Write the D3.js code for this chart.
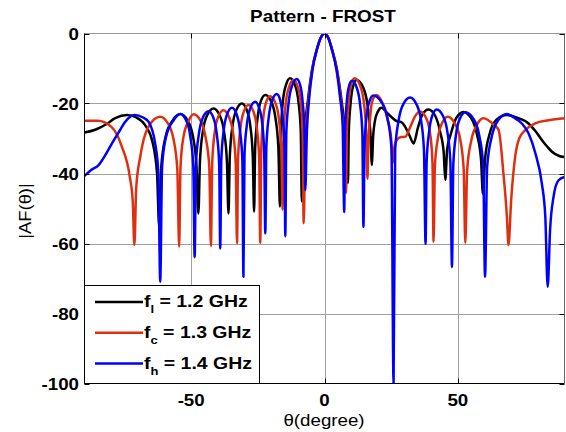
<!DOCTYPE html>
<html>
<head>
<meta charset="utf-8">
<script src="https://cdn.jsdelivr.net/npm/d3@7"></script>
<style>
  body { margin: 0; background: #fff; }
  text { font-family: 'Liberation Sans', Arial, sans-serif; }
</style>
</head>
<body>
<div id="chart"></div>
<script>
const width = 566;
const height = 432;

// pattern: [theta (deg), |AF| (dB)]
const afLow = [
  [-90, -28.3], [-86, -27.5], [-82, -26], [-78.5, -24.2], [-74, -23.3], [-70.5, -24], [-67, -26.5], [-64.5, -31], [-62.8, -40], [-62, -55],
  [-61.2, -38], [-59.6, -29.5], [-56.9, -24.8], [-54.1, -23], [-51.4, -24.8], [-49.3, -29.5], [-48, -38], [-47.3, -51.4],
  [-46.7, -36.4], [-45.6, -27.9], [-43.9, -23.2], [-41.6, -21.4], [-39.4, -23.2], [-37.7, -27.9], [-36.6, -36.4], [-36, -51.4],
  [-35.5, -35], [-34.5, -26.5], [-33, -21.8], [-31, -20], [-29.2, -21.8], [-27.8, -26.5], [-26.9, -35], [-26.4, -50.9],
  [-26, -32.6], [-25.1, -24.1], [-23.9, -19.4], [-22.2, -17.6], [-20, -19.4], [-18.4, -24.1], [-17.3, -32.6], [-16.7, -49.5],
  [-16.3, -27.8], [-15.6, -19.3], [-14.4, -14.6], [-12.9, -12.8], [-11.1, -14.6], [-9.8, -19.3], [-8.9, -27.8], [-8.5, -48],
  [-7.6, -30], [-6.2, -19], [-4.7, -10.4], [-2.9, -4.5], [-1.4, -1.2], [0, 0], [1.4, -1.2], [2.9, -4.7], [4.7, -10.4], [6.2, -18], [7.6, -27], [8.3, -33], [8.8, -42.7],
  [9.1, -28.3], [9.8, -19.8], [10.7, -15.1], [12, -13.3], [14.3, -15.1], [16, -19.8], [17.2, -28.3], [17.8, -37.6],
  [18.2, -30], [18.9, -25], [19.9, -22.5], [21.4, -21.2], [23, -22.3], [25, -23.8], [27, -25], [28.8, -25.3], [30.2, -26.6], [31.8, -29], [33.4, -31.4], [35, -27], [36.8, -23], [39, -21.7],
  [41.5, -23.5], [43.4, -28.2], [44.7, -34], [45.3, -41.8],
  [46, -33], [47.3, -28.9], [49.4, -24.2], [52.1, -22.4], [55, -24.2], [57.2, -28.9], [58.7, -36], [59.4, -45.7],
  [60.2, -36], [61.8, -29], [64.5, -24.6], [68.4, -23.3], [72, -24], [76.5, -25.7], [79, -27.8], [81.5, -30.4], [83.5, -32.3], [85.3, -33.8], [88, -35], [90, -35.3]
];

const afCenter = [
  [-90, -24.9], [-85, -24.9], [-80, -26.6], [-76, -32.3], [-73, -41], [-71.9, -48], [-71.3, -60.4], [-70.6, -44], [-69.1, -35.2], [-66, -26.6], [-61.6, -23.8],
  [-58.8, -25.6], [-56.6, -30.3], [-55.2, -38.8], [-54.5, -60.9],
  [-54, -38.1], [-52.9, -29.6], [-50.9, -24.9], [-49.1, -23.1], [-46.5, -24.9], [-44.6, -29.6], [-43.2, -38.1], [-42.6, -60.7],
  [-42.1, -36.9], [-41.2, -28.4], [-39.8, -23.7], [-37.9, -21.9], [-35.9, -23.7], [-34.3, -28.4], [-33.3, -36.9], [-32.8, -59.9],
  [-32.4, -35.4], [-31.5, -26.9], [-30.2, -22.2], [-28.5, -20.4], [-26.7, -22.2], [-25.4, -26.9], [-24.5, -35.4], [-24.1, -59.8],
  [-23.7, -32.9], [-23, -24.4], [-21.9, -19.7], [-20.4, -17.9], [-18.5, -19.7], [-17.1, -24.4], [-16.2, -32.9], [-15.7, -50.4],
  [-15.3, -28.3], [-14.5, -19.8], [-13.2, -15.1], [-11.6, -13.3], [-10.1, -15.1], [-8.9, -19.8], [-8.2, -28.3], [-7.8, -54.2],
  [-7.2, -30], [-6, -19], [-4.6, -10.4], [-2.8, -4.5], [-1.4, -1.2], [0, 0], [1.4, -1.2], [2.8, -4.6], [4.6, -10.4], [6, -18], [7.1, -27], [7.7, -34], [8.1, -45.6],
  [8.4, -27.8], [9.1, -19.3], [10, -14.6], [11.3, -12.8], [13.2, -14.6], [14.7, -19.3], [15.6, -27.8], [16.1, -41.5],
  [16.4, -32.6], [17.1, -24.1], [17.9, -19.4], [19.5, -17.6], [21.5, -19.5], [23.5, -24], [25, -30], [25.6, -37],
  [26.3, -32], [27.1, -30.4], [28.7, -29.6], [30.3, -29.5], [32, -27], [34, -23.6], [35.9, -22.3],
  [38, -24], [39.6, -28.5], [40.5, -37], [40.9, -59.5], [41.4, -38], [42.5, -30], [44.1, -25.6], [46.2, -23.8],
  [48.8, -25.6], [50.9, -30.3], [52.2, -38.8], [52.8, -59.8], [53.5, -39], [55, -30.7], [57.2, -26], [59.6, -24.2],
  [63.4, -26], [65.3, -27.6], [67.1, -40], [68.4, -52.3], [69, -60.4], [70, -47.6], [71.5, -35.2], [73, -30], [75.3, -27.6], [79, -25.7], [84, -24.8], [90, -24.2]
];

const afHigh = [
  [-90, -40.7], [-87.5, -39], [-84.7, -37.6], [-82, -34.5], [-79.7, -31.4], [-77, -28], [-74.7, -25.2], [-71.3, -23.3], [-68, -24], [-66, -25.2], [-63.5, -31.4], [-62.3, -40], [-61.6, -70.9],
  [-60.9, -38], [-59.4, -29.5], [-56.6, -24.8], [-54.1, -23], [-51.9, -24.8], [-50.3, -29.5], [-49.2, -38], [-48.7, -63.9],
  [-48.2, -37.2], [-47.1, -28.7], [-45.6, -24], [-43.5, -22.2], [-41.7, -24], [-40.4, -28.7], [-39.5, -37.2], [-39.1, -61.4],
  [-38.7, -36.2], [-37.8, -27.7], [-36.5, -23], [-34.7, -21.2], [-33, -23], [-31.7, -27.7], [-30.8, -36.2], [-30.4, -69.5],
  [-30, -34.5], [-29.1, -26], [-27.8, -21.3], [-26, -19.5], [-24.5, -21.3], [-23.3, -26], [-22.6, -34.5], [-22.2, -57.1],
  [-21.8, -32.3], [-20.9, -23.8], [-19.6, -19.1], [-17.9, -17.3], [-16.6, -19.1], [-15.7, -23.8], [-15, -32.3], [-14.7, -57.9],
  [-14.3, -28], [-13.4, -19.5], [-12.1, -14.8], [-10.4, -13], [-9.1, -14.8], [-8.2, -19.5], [-7.5, -28], [-7.2, -44.7],
  [-6.6, -28], [-5.8, -19], [-4.5, -10.4], [-2.8, -4.5], [-1.4, -1.2], [0, 0], [1.4, -1.2], [2.8, -4.7], [4.5, -10.4], [5.8, -18], [6.8, -26], [7.4, -51],
  [7.7, -28.5], [8.3, -20], [9.1, -15.3], [10.3, -13.5], [12, -15.3], [13.3, -20], [14.2, -28.5], [14.6, -55.3],
  [15, -32.7], [15.7, -24.2], [16.8, -19.5], [18.3, -17.7], [21.3, -19.5], [23.6, -24.2], [25.1, -32.7], [25.9, -100],
  [26.5, -33.3], [27.8, -24.8], [29.6, -20.1], [32.1, -18.3], [34.4, -20.1], [36.2, -24.8], [37.3, -33.3], [37.9, -60.1],
  [38.3, -36.7], [39.2, -28.2], [40.4, -23.5], [42.1, -21.7], [44.4, -23.5], [46.1, -28.2], [47.2, -36.7], [47.8, -66.7],
  [48.3, -37.5], [49.3, -29], [50.8, -24.3], [52.8, -22.5], [55.8, -24.3], [58, -29], [59.5, -37.5], [60.2, -69.5],
  [61, -38], [62.7, -29.5], [65.1, -24.8], [68.4, -23], [71, -24], [74, -25.7], [76.5, -28.5], [79, -34], [81.5, -42.8], [82.8, -52.3], [83.7, -72.4], [84.6, -56], [85.9, -46.6], [87.7, -42], [90, -41]
];

const legendSubs = ['l', 'c', 'h'];
const legendFreqs = ['1.2 GHz', '1.3 GHz', '1.4 GHz'];
const xTicks = [-50, 0, 50];
const yTicks = [0, -20, -40, -60, -80, -100];

const colors = ['#000000', '#de3010', '#0000ff'];
const series = [afLow, afCenter, afHigh];

const pLeft = 84.5, pRight = 564.5, pTop = 33.5, pBottom = 383.5;

const x = d3.scaleLinear().domain([-90, 90]).range([pLeft, pRight]);
const y = d3.scaleLinear().domain([-100, 0]).range([pBottom, pTop]);

const svg = d3.select('#chart')
  .append('svg')
  .attr('width', width)
  .attr('height', height)
  .style('background', '#fff');

// widen glyphs a bit, the source figure was stretched sideways
function stretch(sel, k) {
  sel.each(function () {
    const w = this.getComputedTextLength();
    d3.select(this).attr('textLength', w * k).attr('lengthAdjust', 'spacingAndGlyphs');
  });
}

svg.append('clipPath')
  .attr('id', 'plot-clip')
  .append('rect')
  .attr('x', pLeft)
  .attr('y', pTop)
  .attr('width', pRight - pLeft)
  .attr('height', pBottom - pTop);

// grid
svg.selectAll('.gx')
  .data(xTicks)
  .enter()
  .append('line')
  .attr('x1', d => Math.round(x(d)) + 0.5)
  .attr('x2', d => Math.round(x(d)) + 0.5)
  .attr('y1', pTop)
  .attr('y2', pBottom)
  .style('stroke', '#a0a0a0')
  .style('stroke-width', 1);

svg.selectAll('.gy')
  .data(yTicks.filter(d => d !== 0 && d !== -100))
  .enter()
  .append('line')
  .attr('x1', pLeft)
  .attr('x2', pRight)
  .attr('y1', d => Math.round(y(d)) + 0.5)
  .attr('y2', d => Math.round(y(d)) + 0.5)
  .style('stroke', '#a0a0a0')
  .style('stroke-width', 1);

// curves
const line = d3.line()
  .x(d => x(d[0]))
  .y(d => y(d[1]))
  .curve(d3.curveMonotoneX);

svg.append('g')
  .attr('clip-path', 'url(#plot-clip)')
  .selectAll('path')
  .data(series)
  .enter()
  .append('path')
  .attr('d', line)
  .style('fill', 'none')
  .style('stroke', (d, i) => colors[i])
  .style('stroke-width', 2.5)
  .style('stroke-linejoin', 'round');

// box
svg.append('line').attr('x1', pLeft).attr('x2', pRight).attr('y1', pTop).attr('y2', pTop).style('stroke', '#999');
svg.append('line').attr('x1', pRight).attr('x2', pRight).attr('y1', pTop).attr('y2', pBottom).style('stroke', '#666');
svg.append('line').attr('x1', pLeft).attr('x2', pLeft).attr('y1', pTop).attr('y2', pBottom).style('stroke', '#000');
svg.append('line').attr('x1', pLeft).attr('x2', pRight).attr('y1', pBottom).attr('y2', pBottom).style('stroke', '#000');

// ticks, inward on all sides
xTicks.forEach(function (t) {
  const px = Math.round(x(t)) + 0.5;
  svg.append('line').attr('x1', px).attr('x2', px).attr('y1', pBottom).attr('y2', pBottom - 5).style('stroke', '#000');
  svg.append('line').attr('x1', px).attr('x2', px).attr('y1', pTop).attr('y2', pTop + 5).style('stroke', '#000');
});
yTicks.forEach(function (t) {
  const py = Math.round(y(t)) + 0.5;
  svg.append('line').attr('x1', pLeft).attr('x2', pLeft + 5).attr('y1', py).attr('y2', py).style('stroke', '#000');
  svg.append('line').attr('x1', pRight).attr('x2', pRight - 5).attr('y1', py).attr('y2', py).style('stroke', '#000');
});

// tick labels
svg.selectAll('.xl')
  .data(xTicks)
  .enter()
  .append('text')
  .attr('x', d => x(d))
  .attr('y', 406)
  .text(d => d)
  .style('font-size', '17px')
  .style('font-weight', 'bold')
  .style('text-anchor', 'middle')
  .call(stretch, 1.1);

svg.selectAll('.yl')
  .data(yTicks)
  .enter()
  .append('text')
  .attr('x', 79)
  .attr('y', d => y(d) + 6)
  .text(d => d)
  .style('font-size', '17px')
  .style('font-weight', 'bold')
  .style('text-anchor', 'end')
  .call(stretch, 1.1);

// title and axis labels
svg.append('text')
  .attr('x', 323)
  .attr('y', 22)
  .text('Pattern - FROST')
  .style('font-size', '17px')
  .style('font-weight', 'bold')
  .style('text-anchor', 'middle')
  .call(stretch, 1.11);

svg.append('text')
  .attr('x', 324)
  .attr('y', 426)
  .text('θ(degree)')
  .style('font-size', '17px')
  .style('text-anchor', 'middle')
  .call(stretch, 1.1);

svg.append('text')
  .attr('transform', 'translate(31,211) rotate(-90)')
  .text('|AF(θ)|')
  .style('font-size', '17px')
  .style('text-anchor', 'middle')
  .call(stretch, 1.08);

// legend
const legend = svg.append('g');

legend.append('rect')
  .attr('x', pLeft)
  .attr('y', 285.5)
  .attr('width', 175)
  .attr('height', pBottom - 285.5)
  .style('fill', '#fff')
  .style('stroke', '#000')
  .style('stroke-width', 1);

const rows = legend.selectAll('.row')
  .data(legendFreqs)
  .enter()
  .append('g')
  .attr('transform', (d, i) => `translate(0,${302 + i * 30.8})`);

rows.append('line')
  .attr('x1', 95)
  .attr('x2', 143)
  .attr('y1', 0)
  .attr('y2', 0)
  .style('stroke', (d, i) => colors[i])
  .style('stroke-width', 2.5);

const labels = rows.append('text')
  .attr('x', 144)
  .attr('y', 5)
  .style('font-size', '16.5px')
  .style('font-weight', 'bold');

labels.append('tspan').text('f');
labels.append('tspan')
  .attr('dy', 6)
  .style('font-size', '11px')
  .text((d, i) => legendSubs[i]);
labels.append('tspan')
  .attr('dy', -6)
  .text(d => ' = ' + d);

labels.call(stretch, 1.18);
</script>
</body>
</html>
